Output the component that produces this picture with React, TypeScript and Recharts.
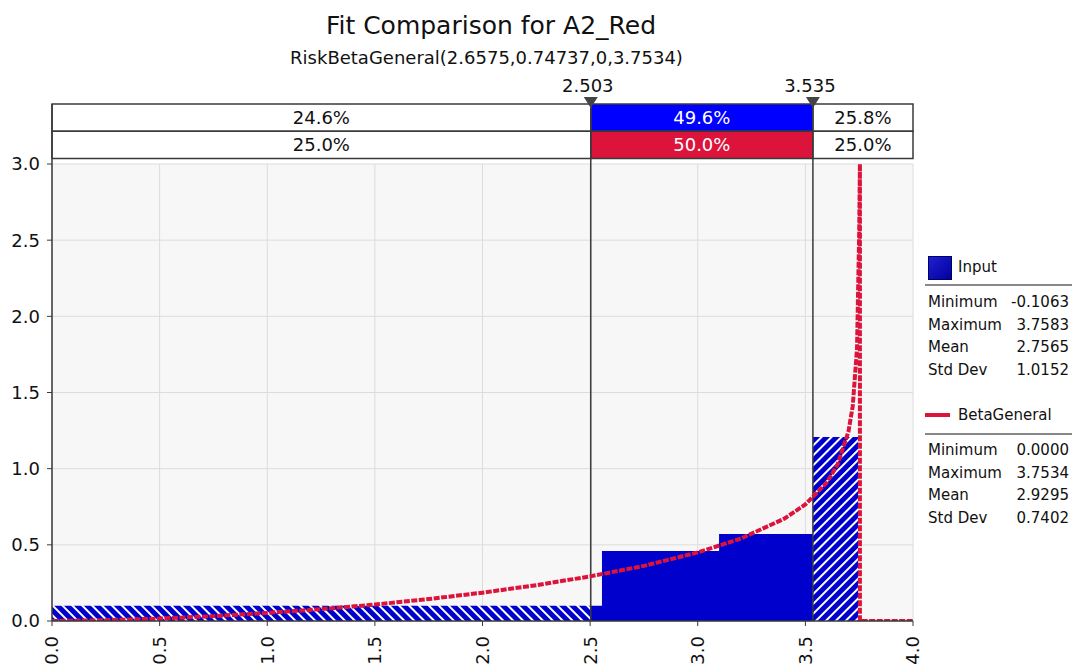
import React from "react";
import {
  ComposedChart,
  Area,
  Line,
  XAxis,
  YAxis,
  CartesianGrid,
  ReferenceLine,
  ReferenceArea,
} from "recharts";

// ─── Data ────────────────────────────────────────────────────────────────────

const xTicks = [0, 0.5, 1, 1.5, 2, 2.5, 3, 3.5, 4];
const yTicks = [0, 0.5, 1, 1.5, 2, 2.5, 3];

const markerValues = [2.503, 3.535];
const markerLabels = ["2.503", "3.535"];
const bandEdges = [0, 2.503, 3.535, 4];
const inputPercents = ["24.6%", "49.6%", "25.8%"];
const fitPercents = ["25.0%", "50.0%", "25.0%"];

// histogram of the input (density)
const binEdges = [-0.1063, 2.555, 3.099, 3.535, 3.745];
const binDensity = [0.1, 0.46, 0.571, 1.208];

// fitted BetaGeneral density
const curveX = [0, 0.25, 0.5, 0.75, 1.0, 1.25, 1.5, 1.75, 2.0, 2.25, 2.5, 2.75, 3.0, 3.2, 3.4, 3.5, 3.6, 3.65, 3.7, 3.72, 3.74, 3.75, 3.7534, 3.7534, 4.0];
const curveY = [0, 0.005, 0.016, 0.032, 0.053, 0.078, 0.108, 0.144, 0.186, 0.235, 0.293, 0.362, 0.45, 0.541, 0.67, 0.765, 0.91, 1.029, 1.243, 1.41, 1.79, 2.55, 3.0, 0, 0];

const statLabels = ["Minimum", "Maximum", "Mean", "Std Dev"];
const inputStats = ["-0.1063", "3.7583", "2.7565", "1.0152"];
const fitStats = ["0.0000", "3.7534", "2.9295", "0.7402"];

// ─── Colors ──────────────────────────────────────────────────────────────────

const FONT = "'DejaVu Sans', Verdana, sans-serif";
const BLUE = "#0000CC";
const BRIGHT_BLUE = "#0000FF";
const RED = "#DC143C";
const DARK = "#3a3a3a";

// slice the step histogram between a and b
function stepSlice(a: number, b: number) {
  const pts: { x: number; y: number }[] = [];
  for (let i = 0; i < binDensity.length; i++) {
    const lo = Math.max(binEdges[i], a);
    const hi = Math.min(binEdges[i + 1], b);
    if (hi > lo) pts.push({ x: lo, y: binDensity[i] });
  }
  pts.push({ x: Math.min(b, binEdges[binEdges.length - 1]), y: 0 });
  return pts;
}

const leftTail = stepSlice(-Infinity, markerValues[0]);
const middle = stepSlice(markerValues[0], markerValues[1]);
const rightTail = stepSlice(markerValues[1], Infinity);
const curve = curveX.map((x, i) => ({ x, y: curveY[i] }));
const bandRows = bandEdges.map((x) => ({ x, y: 0 }));

// ─── Ticks / labels ──────────────────────────────────────────────────────────

function XTick({ x, y, payload }: any) {
  return (
    <text
      x={x}
      y={y}
      transform={`rotate(-90 ${x} ${y})`}
      textAnchor="end"
      dy="0.36em"
      fontSize={18}
      fontFamily={FONT}
      fill="#111"
    >
      {Number(payload.value).toFixed(1)}
    </text>
  );
}

function MarkerGlyph({ viewBox, text }: any) {
  if (!viewBox) return null;
  const x = viewBox.x;
  const y = viewBox.y;
  return (
    <g>
      <polygon points={`${x - 7},${y - 7} ${x + 7},${y - 7} ${x},${y + 4}`} fill="#444" />
      <text x={x - 3} y={y - 12} textAnchor="middle" fontSize={18} fontFamily={FONT} fill="#111">
        {text}
      </text>
    </g>
  );
}

function StatRows({ values, top }: { values: string[]; top: number }) {
  return (
    <>
      {statLabels.map((s, i) => (
        <div
          key={s}
          style={{
            position: "absolute",
            left: 928,
            width: 141,
            top: top + i * 22.7,
            height: 22.7,
            lineHeight: "22.7px",
            fontSize: 15,
            display: "flex",
            justifyContent: "space-between",
            color: "#111",
          }}
        >
          <span>{s}</span>
          <span>{values[i]}</span>
        </div>
      ))}
    </>
  );
}

// ─── Component ───────────────────────────────────────────────────────────────

export default function App() {
  return (
    <div style={{ position: "relative", width: 1072, height: 664, background: "#fff", fontFamily: FONT, overflow: "hidden" }}>
      <style>{`body{margin:0}`}</style>

      {/* titles */}
      <div style={{ position: "absolute", left: 0, width: 982, top: 13, textAlign: "center", fontSize: 25, lineHeight: "25px", color: "#111" }}>
        Fit Comparison for A2_Red
      </div>
      <div style={{ position: "absolute", left: 0, width: 973, top: 49, textAlign: "center", fontSize: 18, lineHeight: "18px", color: "#111" }}>
        RiskBetaGeneral(2.6575,0.74737,0,3.7534)
      </div>

      {/* main plot */}
      <div style={{ position: "absolute", left: 0, top: 0 }}>
        <ComposedChart width={1072} height={664} margin={{ top: 164, right: 159, left: 0, bottom: 0 }}>
          <defs>
            <pattern id="hatchL" width="7" height="7" patternUnits="userSpaceOnUse" patternTransform="rotate(-45)">
              <rect width="7" height="7" fill={BLUE} />
              <rect x="0" width="2" height="7" fill="#ffffff" />
            </pattern>
            <pattern id="hatchR" width="7" height="7" patternUnits="userSpaceOnUse" patternTransform="rotate(45)">
              <rect width="7" height="7" fill={BLUE} />
              <rect x="0" width="2" height="7" fill="#ffffff" />
            </pattern>
          </defs>
          <CartesianGrid fill="#F7F7F7" stroke="#dcdcdc" />
          <XAxis
            dataKey="x"
            type="number"
            domain={[0, 4]}
            ticks={xTicks}
            allowDataOverflow
            height={43}
            tickSize={5}
            tickMargin={10}
            axisLine={{ stroke: DARK, strokeWidth: 1.5 }}
            tickLine={{ stroke: DARK }}
            tick={(p: any) => <XTick {...p} />}
            interval={0}
          />
          <YAxis
            type="number"
            domain={[0, 3]}
            ticks={yTicks}
            allowDataOverflow
            width={52}
            tickSize={5}
            tickMargin={7}
            axisLine={{ stroke: DARK, strokeWidth: 1.5 }}
            tickLine={{ stroke: DARK }}
            tick={{ fontSize: 18, fill: "#111", fontFamily: FONT }}
            tickFormatter={(v: number) => v.toFixed(1)}
            interval={0}
          />
          <Area data={leftTail} dataKey="y" type="stepAfter" stroke="none" fill="url(#hatchL)" fillOpacity={1} isAnimationActive={false} />
          <Area data={middle} dataKey="y" type="stepAfter" stroke="none" fill={BLUE} fillOpacity={1} isAnimationActive={false} />
          <Area data={rightTail} dataKey="y" type="stepAfter" stroke="none" fill="url(#hatchR)" fillOpacity={1} isAnimationActive={false} />
          {markerValues.map((v) => (
            <ReferenceLine key={v} x={v} stroke={DARK} strokeWidth={1.5} />
          ))}
          <Line
            data={curve}
            dataKey="y"
            type="linear"
            stroke={RED}
            strokeWidth={4}
            strokeDasharray="6 1.5"
            dot={false}
            isAnimationActive={false}
          />
        </ComposedChart>
      </div>

      {/* percentage bands with delimiters */}
      <div style={{ position: "absolute", left: 0, top: 70 }}>
        <ComposedChart width={1072} height={94} data={bandRows} margin={{ top: 34, right: 159, left: 52, bottom: 0 }}>
          <XAxis dataKey="x" type="number" domain={[0, 4]} hide />
          <YAxis dataKey="y" type="number" domain={[-0.2, 2]} hide />
          <Line dataKey="y" stroke="none" dot={false} isAnimationActive={false} />
          {inputPercents.map((p, i) => (
            <ReferenceArea
              key={"in" + i}
              x1={bandEdges[i]}
              x2={bandEdges[i + 1]}
              y1={1}
              y2={2}
              fill={i === 1 ? BRIGHT_BLUE : "#ffffff"}
              fillOpacity={1}
              stroke={DARK}
              strokeWidth={1.5}
              label={{ value: p, position: "center", fill: i === 1 ? "#ffffff" : "#111", fontSize: 18, fontFamily: FONT }}
            />
          ))}
          {fitPercents.map((p, i) => (
            <ReferenceArea
              key={"fit" + i}
              x1={bandEdges[i]}
              x2={bandEdges[i + 1]}
              y1={0}
              y2={1}
              fill={i === 1 ? RED : "#ffffff"}
              fillOpacity={1}
              stroke={DARK}
              strokeWidth={1.5}
              label={{ value: p, position: "center", fill: i === 1 ? "#ffffff" : "#111", fontSize: 18, fontFamily: FONT }}
            />
          ))}
          <ReferenceLine x={0} stroke={DARK} strokeWidth={1.5} />
          {markerValues.map((v, i) => (
            <ReferenceLine
              key={v}
              x={v}
              stroke={DARK}
              strokeWidth={1.5}
              label={(props: any) => <MarkerGlyph {...props} text={markerLabels[i]} />}
            />
          ))}
        </ComposedChart>
      </div>

      {/* legend */}
      <div style={{ position: "absolute", left: 928, top: 256, width: 22, height: 22, background: "linear-gradient(135deg, #2020d0, #0000a0)", border: "1px solid #000060" }} />
      <div style={{ position: "absolute", left: 958, top: 256, fontSize: 15, lineHeight: "22px", color: "#111" }}>Input</div>
      <div style={{ position: "absolute", left: 925, top: 284, width: 147, height: 2, background: "#888" }} />
      <StatRows values={inputStats} top={291} />

      <div style={{ position: "absolute", left: 925, top: 413, width: 25, height: 4, background: RED }} />
      <div style={{ position: "absolute", left: 958, top: 404, fontSize: 15, lineHeight: "22px", color: "#111" }}>BetaGeneral</div>
      <div style={{ position: "absolute", left: 925, top: 433, width: 147, height: 2, background: "#888" }} />
      <StatRows values={fitStats} top={439} />
    </div>
  );
}
